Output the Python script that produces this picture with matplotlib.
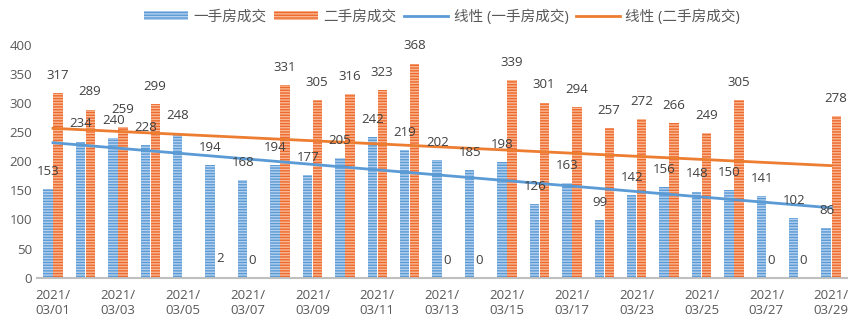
import matplotlib
matplotlib.use("Agg")
import matplotlib.pyplot as plt
import numpy as np

plt.rcParams["font.family"] = ["Open Sans", "Noto Sans CJK SC", "DejaVu Sans"]
plt.rcParams["hatch.linewidth"] = 1.0

dates = ["2021/\n03/01", "03/02", "2021/\n03/03", "03/04", "2021/\n03/05", "03/06",
         "2021/\n03/07", "03/08", "2021/\n03/09", "03/10", "2021/\n03/11", "03/12",
         "2021/\n03/13", "03/14", "2021/\n03/15", "03/16", "2021/\n03/17", "03/22",
         "2021/\n03/23", "03/24", "2021/\n03/25", "03/26", "2021/\n03/27", "03/28",
         "2021/\n03/29"]
new_home = [153, 234, 240, 228, 248, 194, 168, 194, 177, 205, 242, 219, 202,
            185, 198, 126, 163, 99, 142, 156, 148, 150, 141, 102, 86]
resale = [317, 289, 259, 299, None, 2, 0, 331, 305, 316, 323, 368, 0,
          0, 339, 301, 294, 257, 272, 266, 249, 305, 0, 0, 278]

text_color = "#595959"
blue_face, blue_hatch = "#b4d0ee", "#5b9bd5"
orange_face, orange_hatch = "#f9b893", "#ed6a2e"

x = np.arange(len(dates))
new_arr = np.array(new_home, dtype=float)
resale_arr = np.array([np.nan if v is None else v for v in resale], dtype=float)

fig, ax = plt.subplots(figsize=(8.56, 3.21), dpi=100)
fig.subplots_adjust(left=0.043, right=0.99, top=0.86, bottom=0.135)

w = 0.29
b1 = ax.bar(x - w / 2 - 0.01, new_arr, w, color=blue_face, edgecolor=blue_hatch,
            hatch="------", linewidth=0, label="一手房成交")
b2 = ax.bar(x + w / 2 + 0.01, np.nan_to_num(resale_arr), w, color=orange_face,
            edgecolor=orange_hatch, hatch="------", linewidth=0, label="二手房成交")

for xi, v in zip(x, new_arr):
    ax.annotate(f"{int(v)}", (xi - w / 2, v), xytext=(0, 8), textcoords="offset points",
                ha="center", va="bottom", fontsize=9.5, color="#404040")
for xi, v in zip(x, resale_arr):
    if np.isnan(v):
        continue
    ax.annotate(f"{int(v)}", (xi + w / 2, v), xytext=(0, 8), textcoords="offset points",
                ha="center", va="bottom", fontsize=9.5, color="#404040")

# linear trendlines (Excel style)
k1, c1 = np.polyfit(x, new_arr, 1)
ok = ~np.isnan(resale_arr)
k2, c2 = np.polyfit(x[ok], resale_arr[ok], 1)
l1, = ax.plot(x, k1 * x + c1, color="#5b9bd5", lw=2, label="线性 (一手房成交)")
l2, = ax.plot(x, k2 * x + c2, color="#ed7d31", lw=2, label="线性 (二手房成交)")

ax.set_xlim(-0.5, len(dates) - 0.5)
ax.set_ylim(0, 400)
ax.set_yticks(range(0, 401, 50))
ax.set_xticks(x[::2])
ax.set_xticklabels(dates[::2])
ax.tick_params(axis="both", length=0, labelsize=9.5, colors=text_color)
ax.tick_params(axis="x", pad=8)
for side in ["top", "right", "left"]:
    ax.spines[side].set_visible(False)
ax.spines["bottom"].set_color("#bfbfbf")
ax.spines["bottom"].set_linewidth(1.5)

ax.legend(handles=[b1, b2, l1, l2], loc="upper center", bbox_to_anchor=(0.5, 1.21),
          ncol=4, frameon=False, fontsize=10.5, labelcolor=text_color,
          handlelength=3, handleheight=0.5, columnspacing=0.5, handletextpad=0.4)

fig.savefig("out.png", dpi=100)
